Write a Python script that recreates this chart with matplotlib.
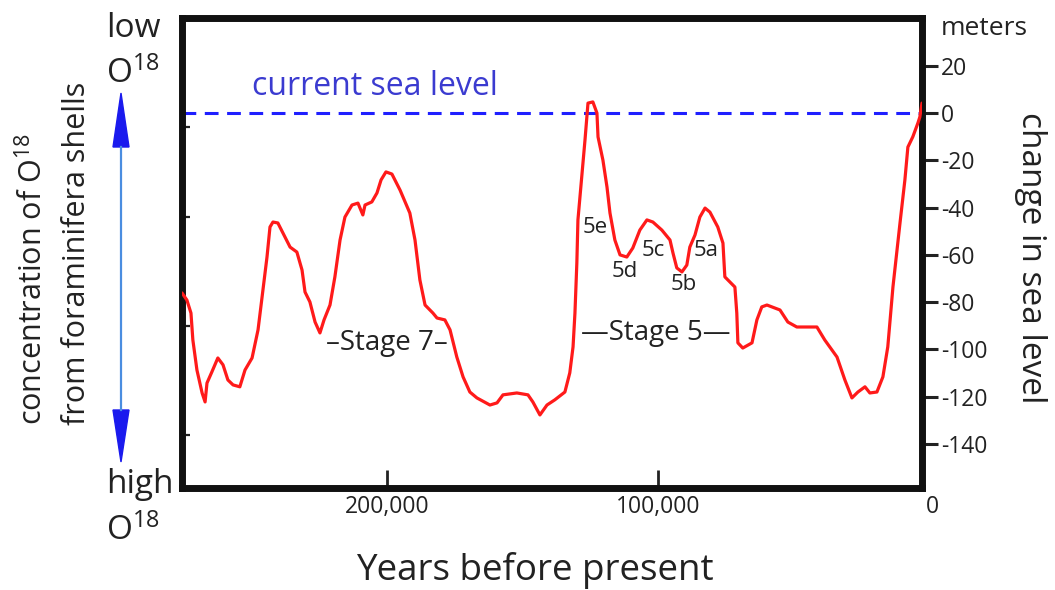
import numpy as np
import matplotlib.pyplot as plt
from matplotlib.patches import Polygon
from matplotlib.lines import Line2D

plt.rcParams['font.family'] = ['Open Sans', 'DejaVu Sans']
plt.rcParams['mathtext.fontset'] = 'custom'
plt.rcParams['mathtext.rm'] = 'Open Sans'
plt.rcParams['mathtext.it'] = 'Open Sans:italic'
plt.rcParams['mathtext.bf'] = 'Open Sans:bold'

# sea level curve, thousands of years before present / metres relative to today
age_kyr = [275.4, 273.6, 272.1, 271.4, 269.9, 268.0, 266.9, 266.2, 264.4, 262.2,
           260.3, 258.5, 256.6, 254.1, 252.2, 249.6, 247.4, 245.6, 244.1, 243.0,
           241.9, 240.1, 237.5, 235.6, 233.1, 231.2, 230.1, 228.3, 226.4, 224.6,
           223.1, 220.9, 219.1, 217.2, 215.4, 212.8, 210.6, 208.8, 208.0, 205.5,
           203.6, 202.1, 200.3, 198.1, 195.1, 191.5, 189.6, 187.8, 185.9, 183.0,
           181.5, 178.6, 176.7, 174.2, 171.9, 169.4, 166.8, 162.0, 159.4, 157.2,
           152.1, 148.0, 146.2, 143.6, 141.0, 138.1, 134.4, 132.6, 131.4, 130.7,
           130.0, 129.6, 128.1, 127.0, 125.9, 124.1, 122.6, 122.2, 120.4, 118.9,
           117.8, 116.0, 114.1, 111.6, 109.4, 106.8, 104.2, 102.0, 98.7, 95.7,
           94.6, 93.2, 91.3, 89.5, 88.4, 86.5, 84.7, 82.8, 81.0, 78.1,
           76.2, 75.5, 73.6, 71.8, 71.1, 70.7, 68.9, 65.5, 63.7, 61.9,
           60.0, 55.2, 52.3, 49.0, 41.6, 38.7, 34.2, 31.3, 28.7, 26.5,
           23.9, 22.1, 19.5, 17.3, 15.5, 13.6, 11.0, 9.2, 8.1, 6.3,
           4.4, 3.7, 2.9]
sea_level_m = [-76.1, -79.1, -84.6, -96.0, -108.7, -118.4, -122.2, -114.2, -109.5, -103.6,
               -106.5, -112.9, -115.0, -115.8, -108.7, -103.6, -91.7, -74.8, -60.9, -48.2,
               -46.1, -46.5, -52.4, -56.7, -58.8, -66.4, -75.7, -79.9, -88.4, -93.0,
               -87.5, -81.2, -69.3, -53.7, -44.0, -38.9, -38.1, -43.1, -38.9, -37.6,
               -33.8, -28.3, -24.9, -25.8, -32.6, -42.3, -53.7, -70.6, -81.2, -84.6,
               -86.7, -87.5, -91.7, -103.2, -111.6, -118.0, -120.5, -123.5, -122.6, -119.2,
               -118.4, -119.2, -122.2, -127.7, -123.5, -121.3, -118.0, -109.9, -98.9, -84.6,
               -63.4, -45.2, -25.4, -11.4, 4.2, 4.7, 0.0, -10.1, -19.9, -31.3,
               -42.3, -53.7, -60.0, -60.9, -57.1, -49.5, -45.2, -46.1, -49.5, -53.7,
               -59.2, -65.5, -67.2, -64.3, -56.7, -51.6, -44.0, -40.2, -41.9, -48.2,
               -55.0, -69.3, -71.5, -73.6, -84.6, -97.2, -99.4, -97.2, -87.5, -82.0,
               -81.2, -83.3, -88.4, -90.5, -90.5, -96.0, -103.2, -112.9, -120.5, -118.0,
               -115.8, -118.4, -118.0, -111.6, -98.9, -73.6, -46.5, -28.3, -14.4, -10.1,
               -4.2, -1.7, 4.2]

current_sea_level = 0
x_ticks = [200000, 100000]
x_tick_labels = ['200,000', '100,000']
y_ticks = [20, 0, -20, -40, -60, -80, -100, -120, -140]
o18_ticks = [-6, -44, -90, -136]

substage_names = ['5e', '5d', '5c', '5b', '5a']
substage_kyr = [123.3, 112.3, 102.0, 90.6, 82.5]
substage_m = [-48.6, -67.2, -58.3, -72.7, -58.3]

stage_names = ['\u2013Stage 7\u2013', '\u2014Stage 5\u2014']
stage_kyr = [199.9, 100.9]
stage_m = [-97.2, -93.0]

W, H = 1055, 590
fig = plt.figure(figsize=(W / 100, H / 100), dpi=100)


def fx(px):
    return px / W


def fy(py):
    return 1 - py / H


ax = fig.add_axes([fx(182), fy(488), (922 - 182) / W, (488 - 18) / H])
years = np.array(age_kyr) * 1000
ax.plot(years, sea_level_m, color='#ff1a1a', lw=2.3, solid_joinstyle='round',
        solid_capstyle='round', zorder=3)
ax.axhline(current_sea_level, color='#1f1fff', lw=2.2, dashes=(4.5, 2.8), zorder=2)

ax.set_xlim(275400, 2900)
ax.set_ylim(-158.6, 40.2)

for s in ax.spines.values():
    s.set_linewidth(5)
    s.set_color('#111111')

ax.set_xticks(x_ticks)
ax.set_xticklabels(x_tick_labels)
ax.tick_params(axis='x', direction='in', length=13, width=2, pad=5,
               labelsize=16.5, labelcolor='#222222', color='#222222')

ax.yaxis.tick_right()
ax.set_yticks(y_ticks)
ax.set_yticklabels([str(v) for v in y_ticks])
ax.tick_params(axis='y', direction='out', length=11.5, width=2.2, pad=2,
               labelsize=16.5, labelcolor='#222222', color='#222222')

left = ax.secondary_yaxis('left')
left.set_yticks(o18_ticks)
left.set_yticklabels([])
left.tick_params(direction='in', length=6, width=1.6, color='#222222')
left.spines['left'].set_visible(False)

ax.annotate('0', xy=(0, 0), xycoords=('data', 'axes fraction'), xytext=(2, -5),
            textcoords='offset points', ha='center', va='top', fontsize=16.5,
            color='#222222', annotation_clip=False)

for name, k, m in zip(substage_names, substage_kyr, substage_m):
    ax.text(k * 1000, m, name, ha='center', va='center', fontsize=16, color='#222222')
for name, k, m in zip(stage_names, stage_kyr, stage_m):
    ax.text(k * 1000, m, name, ha='center', va='center', fontsize=20, color='#222222')

fig.text(fx(252), fy(95), 'current sea level', color='#3b3bd0', fontsize=23,
         ha='left', va='baseline')

# left side labels
txt = dict(color='#222222')
fig.text(fx(106), fy(37), 'low', fontsize=24, ha='left', va='baseline', **txt)
fig.text(fx(106), fy(83), r'O$^{18}$', fontsize=24, ha='left', va='baseline', **txt)
fig.text(fx(106), fy(493), 'high', fontsize=24, ha='left', va='baseline', **txt)
fig.text(fx(106), fy(540), r'O$^{18}$', fontsize=24, ha='left', va='baseline', **txt)
fig.text(fx(42), fy(425), r'concentration of O$^{18}$', fontsize=22, rotation=90,
         rotation_mode='anchor', ha='left', va='baseline', **txt)
fig.text(fx(85), fy(425), 'from foraminifera shells', fontsize=22, rotation=90,
         rotation_mode='anchor', ha='left', va='baseline', **txt)

# right side labels
fig.text(fx(941), fy(35), 'meters', fontsize=19, ha='left', va='baseline', **txt)
fig.text(fx(1022), fy(112), 'change in sea level', fontsize=24, rotation=-90,
         rotation_mode='anchor', ha='left', va='baseline', **txt)

fig.text(fx(535), fy(580), 'Years before present', fontsize=26.5, ha='center',
         va='baseline', **txt)

# blue double arrow
fig.add_artist(Line2D([fx(121), fx(121)], [fy(147), fy(410)], color='#4a8de0',
                      lw=1.6, transform=fig.transFigure))
fig.add_artist(Polygon([[fx(121), fy(93)], [fx(113), fy(147)], [fx(129), fy(147)]],
                       closed=True, color='#1a1aee', transform=fig.transFigure))
fig.add_artist(Polygon([[fx(121), fy(462)], [fx(113), fy(410)], [fx(129), fy(410)]],
                       closed=True, color='#1a1aee', transform=fig.transFigure))

fig.savefig('out.png', dpi=100)
